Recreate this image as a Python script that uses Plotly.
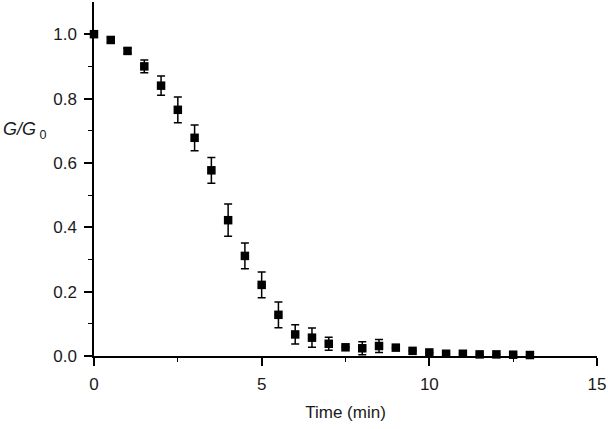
import plotly.graph_objects as go

# time points (min)
time_min = [0, 0.5, 1, 1.5, 2, 2.5, 3, 3.5, 4, 4.5, 5, 5.5, 6, 6.5,
            7, 7.5, 8, 8.5, 9, 9.5, 10, 10.5, 11, 11.5, 12, 12.5, 13]
# normalized conductance G/G0
g_ratio = [1.0, 0.982, 0.948, 0.900, 0.840, 0.765, 0.678, 0.577, 0.422, 0.311,
           0.221, 0.128, 0.067, 0.057, 0.038, 0.027, 0.024, 0.031, 0.026,
           0.016, 0.011, 0.007, 0.007, 0.005, 0.005, 0.004, 0.003]
# error bar half-widths
g_err = [0.0, 0.008, 0.008, 0.02, 0.03, 0.04, 0.04, 0.04, 0.05, 0.04,
         0.04, 0.04, 0.03, 0.03, 0.02, 0.0, 0.02, 0.02, 0.0,
         0.0, 0.0, 0.0, 0.0, 0.0, 0.0, 0.0, 0.0]

x_ticks = [0, 5, 10, 15]
x_minor = [2.5, 7.5, 12.5]
y_ticks = [0, 0.2, 0.4, 0.6, 0.8, 1.0]
y_labels = ['0.0', '0.2', '0.4', '0.6', '0.8', '1.0']
y_minor = [0.1, 0.3, 0.5, 0.7, 0.9]

font_family = "Liberation Sans, Arial, Helvetica, sans-serif"
text_color = '#1a1a1a'

fig = go.Figure()

fig.add_trace(go.Scatter(
    x=time_min,
    y=g_ratio,
    mode='markers',
    marker=dict(symbol='square', size=8.5, color='black'),
    error_y=dict(type='data', array=g_err, visible=True,
                 color='black', thickness=1.5, width=4),
    cliponaxis=False,
    showlegend=False
))

fig.update_xaxes(
    range=[0, 15],
    tickvals=x_ticks,
    ticks='outside',
    ticklen=8,
    tickwidth=1.5,
    ticklabelstandoff=4,
    minor=dict(tickvals=x_minor, ticks='outside', ticklen=4, tickwidth=1.2,
               tickcolor='black'),
    showline=True,
    linecolor='black',
    linewidth=1.5,
    tickcolor='black',
    showgrid=False,
    zeroline=False,
    tickfont=dict(size=17, color=text_color, family=font_family),
    title=dict(text='Time (min)', font=dict(size=17, color=text_color, family=font_family),
               standoff=13)
)

fig.update_yaxes(
    range=[0, 1.1],
    tickvals=y_ticks,
    ticktext=y_labels,
    ticks='outside',
    ticklen=8,
    tickwidth=1.5,
    ticklabelstandoff=4,
    minor=dict(tickvals=y_minor, ticks='outside', ticklen=4,
               tickwidth=1.2, tickcolor='black'),
    showline=True,
    linecolor='black',
    linewidth=1.5,
    tickcolor='black',
    showgrid=False,
    zeroline=False,
    tickfont=dict(size=17, color=text_color, family=font_family)
)

fig.add_annotation(
    text='<i>G/G</i><sub> 0</sub>',
    xref='paper', yref='y',
    x=-0.137, y=0.70,
    xanchor='center',
    showarrow=False,
    font=dict(size=18, color=text_color, family=font_family)
)

fig.update_layout(
    width=608,
    height=429,
    margin=dict(l=94, r=11, t=2, b=73, autoexpand=False),
    plot_bgcolor='white',
    paper_bgcolor='white'
)

# drop the default page margin so the figure sits at the window's corner
fig.write_html("out.html", config={'displayModeBar': False},
               post_script="document.body.style.margin='0';")
